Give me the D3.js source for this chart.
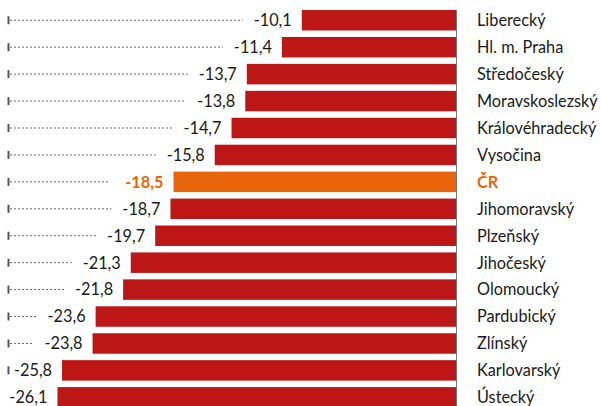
<!DOCTYPE html>
<html><head><meta charset="utf-8">
<script src="https://cdn.jsdelivr.net/npm/d3@7"></script>
<style>
body{margin:0;background:#fff;}
svg{display:block;}
text{font-family:Lato,"Open Sans",sans-serif;}
</style></head>
<body><svg id="c" width="601" height="406"></svg>
<script>
const regions = ["Liberecký","Hl. m. Praha","Středočeský","Moravskoslezský","Královéhradecký","Vysočina","ČR","Jihomoravský","Plzeňský","Jihočeský","Olomoucký","Pardubický","Zlínský","Karlovarský","Ústecký"];
const values = [-10.1,-11.4,-13.7,-13.8,-14.7,-15.8,-18.5,-18.7,-19.7,-21.3,-21.8,-23.6,-23.8,-25.8,-26.1];
const highlight = "ČR";

const svg = d3.select("#c");
const x = d3.scaleLinear().domain([-30,0]).range([456-30*15.27,456]);
const y = d3.scaleBand().domain(regions).range([6.8,410.8]).paddingInner(0.24).paddingOuter(0.12);
const fmt = v => d3.format(".1f")(v).replace(".",",").replace("−","-");
const red = "#bd1616", orange = "#e8650c";

const g = svg.selectAll("g.row").data(regions.map((r,i)=>({r,v:values[i]}))).join("g").attr("class","row");

g.append("rect")
  .attr("x",d=>x(d.v)).attr("width",d=>x(0)-x(d.v))
  .attr("y",d=>y(d.r)).attr("height",y.bandwidth())
  .attr("fill",d=>d.r===highlight?orange:red);

const vt = g.append("text")
  .attr("x",d=>x(d.v)-10).attr("y",d=>y(d.r)+y.bandwidth()/2)
  .attr("dy","0.36em").attr("text-anchor","end")
  .attr("font-size",16.3)
  .attr("font-weight",d=>d.r===highlight?"bold":"normal")
  .attr("fill",d=>d.r===highlight?orange:"#1a1a1a")
  .text(d=>fmt(d.v));

vt.each(function(d){
  const w = this.getComputedTextLength();
  const start = x(d.v)-10-w;
  const end = start - (d.r===highlight?16:11);
  const cy = y(d.r)+y.bandwidth()/2;
  const p = d3.select(this.parentNode);
  if(start>11){
    p.insert("line","text")
      .attr("x1",8.5).attr("x2",8.5).attr("y1",cy-4).attr("y2",cy+4)
      .attr("stroke","#555").attr("stroke-width",2);
  }
  if(end>12){
    p.insert("line","text")
      .attr("x1",10).attr("x2",end).attr("y1",cy).attr("y2",cy)
      .attr("stroke","#666").attr("stroke-width",1).attr("stroke-dasharray","2,2");
  }
});

svg.append("line").attr("x1",x(0)+0.5).attr("x2",x(0)+0.5)
  .attr("y1",y(regions[0])).attr("y2",406).attr("stroke","#777").attr("stroke-width",1);

g.append("text")
  .attr("x",477).attr("y",d=>y(d.r)+y.bandwidth()/2)
  .attr("dy","0.36em").attr("font-size",16.3)
  .attr("font-weight",d=>d.r===highlight?"bold":"normal")
  .attr("fill",d=>d.r===highlight?orange:"#1a1a1a")
  .text(d=>d.r);
</script></body></html>
